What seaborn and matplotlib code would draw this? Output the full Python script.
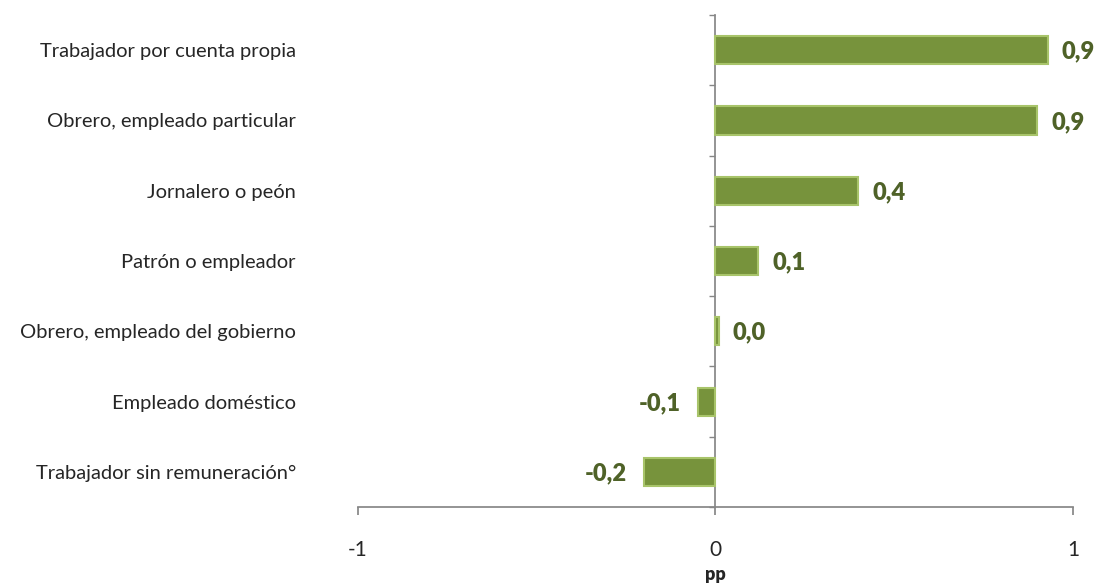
import matplotlib.pyplot as plt
import numpy as np
import pandas as pd
import seaborn as sns

categories = [
    "Trabajador por cuenta propia",
    "Obrero, empleado particular",
    "Jornalero o peón",
    "Patrón o empleador",
    "Obrero, empleado del gobierno",
    "Empleado doméstico",
    "Trabajador sin remuneración°",
]
values = [0.93, 0.90, 0.40, 0.12, 0.01, -0.05, -0.20]
value_labels = ["0,9", "0,9", "0,4", "0,1", "0,0", "-0,1", "-0,2"]
x_ticks = [-1, 0, 1]

BAR_COLOR = "#77933C"
EDGE_COLOR = "#A8C46A"
LABEL_COLOR = "#4F6228"
AXIS_COLOR = "#868686"

sns.set_theme(style="white")
plt.rcParams["font.family"] = ["Lato", "DejaVu Sans"]

df = pd.DataFrame({"cat": categories, "val": values})

fig = plt.figure(figsize=(11.01, 5.85), dpi=100)
ax = fig.add_axes([0.325, 0.1333, 0.6496, 0.8410])

sns.barplot(data=df, x="val", y="cat", orient="h", color=BAR_COLOR,
            width=0.4, edgecolor=EDGE_COLOR, linewidth=1.5, saturation=1, ax=ax)

ax.set_xlim(-1, 1)
ax.set_ylim(len(categories) - 0.5, -0.5)

# axes lines
for side in ["top", "right"]:
    ax.spines[side].set_visible(False)
ax.spines["left"].set_position(("data", 0))
ax.spines["left"].set_color(AXIS_COLOR)
ax.spines["bottom"].set_color(AXIS_COLOR)
ax.spines["left"].set_zorder(0)

ax.set_xticks(x_ticks)
ax.set_xticklabels([str(t) for t in x_ticks], fontsize=15)
ax.tick_params(axis="x", direction="out", length=6, color=AXIS_COLOR, pad=18, bottom=True)

ax.set_yticks(range(len(categories)))
ax.set_yticklabels(categories, fontsize=14.5)
ax.tick_params(axis="y", which="major", length=0, pad=302)
ax.set_yticks(np.arange(-0.5, len(categories), 1), minor=True)
ax.tick_params(axis="y", which="minor", direction="out", length=4.5, color=AXIS_COLOR, left=True)

ax.set_xlabel("pp", fontsize=13, fontweight="heavy", labelpad=4)
ax.set_ylabel("")

# value labels
for i, (v, lab) in enumerate(zip(values, value_labels)):
    if v >= 0:
        ax.annotate(lab, (v, i), xytext=(10, -1), textcoords="offset points",
                    ha="left", va="center", fontsize=17, fontweight="heavy", color=LABEL_COLOR)
    else:
        ax.annotate(lab, (v, i), xytext=(-12, -1), textcoords="offset points",
                    ha="right", va="center", fontsize=17, fontweight="heavy", color=LABEL_COLOR)

plt.savefig("out.png", dpi=100)
